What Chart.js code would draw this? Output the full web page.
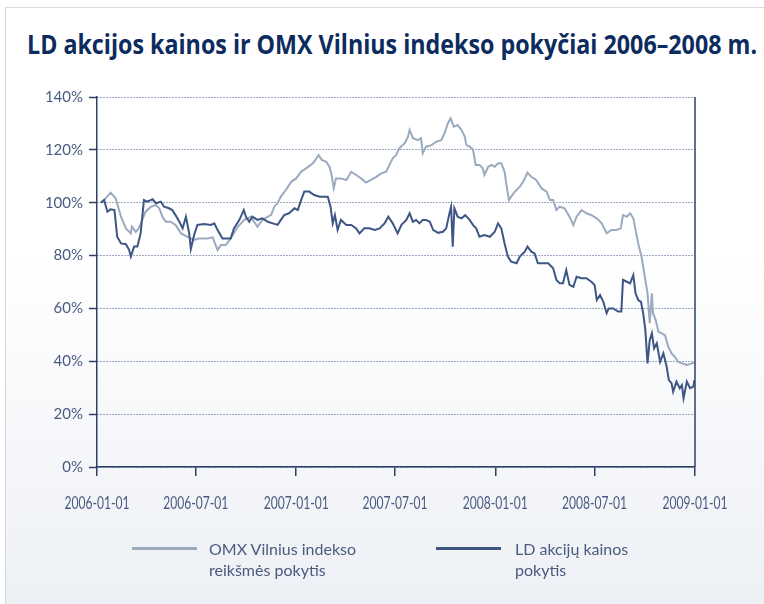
<!DOCTYPE html>
<html><head><meta charset="utf-8">
<script src="https://cdn.jsdelivr.net/npm/chart.js@4.4.0/dist/chart.umd.min.js"></script>
<style>
html,body{margin:0;padding:0;background:#fff;}
#wrap{position:relative;width:764px;height:604px;overflow:hidden;background:#fff;}
#frame{position:absolute;left:5px;top:7px;width:770px;height:620px;border:1px solid #d6dbe3;background:linear-gradient(to bottom,#ffffff 0%,#ffffff 40%,#eceff4 100%);}
#title{position:absolute;left:27px;top:29px;white-space:nowrap;font-weight:bold;font-size:26px;font-family:'Open Sans',sans-serif;color:#0c2b5e;transform-origin:0 0;line-height:30px;}
canvas{position:absolute;left:0;top:0;}
.sw{position:absolute;height:3px;}
.lt{position:absolute;font-family:Lato,'Open Sans',sans-serif;font-size:16px;line-height:21px;color:#4a5b80;white-space:nowrap;}
</style></head>
<body>
<div id="wrap">
  <div id="frame"></div>
  <div id="title">LD akcijos kainos ir OMX Vilnius indekso pokyčiai 2006–2008 m.</div>
  <canvas id="c" width="764" height="604"></canvas>
  <div id="legend"></div>
</div>
<script>
// x values: days since 2006-01-01
const tickDays = [0, 181, 365, 546, 730, 912, 1096];
const tickLabels = ['2006-01-01','2006-07-01','2007-01-01','2007-07-01','2008-01-01','2008-07-01','2009-01-01'];

const omxDays = [7,13,25,34,44,53,62,64,71,77,
83,89,99,108,114,120,126,135,144,154,
166,178,187,202,212,221,227,236,245,258,
270,282,294,303,313,319,325,331,337,346,
356,365,374,383,392,398,406,412,420,426,
430,434,438,447,457,466,475,484,493,502,
512,521,530,536,542,548,554,564,570,573,
579,588,594,597,603,613,622,631,637,643,
648,654,661,668,674,677,683,689,694,701,
707,710,717,723,729,735,741,747,750,755,
759,766,775,781,789,796,805,815,824,830,
836,842,848,857,866,873,879,888,897,906,
916,925,934,943,952,960,964,971,977,983,
987,992,998,1004,1009,1013,1017,1019,1024,1029,
1035,1041,1047,1053,1059,1065,1072,1081,1090,1095];
const omxValues = [100,101,103.8,101.8,94.7,90.3,88.4,91,89,90.4,
93.5,96.6,98.5,99.1,97.9,94.7,92.8,92.8,91.6,88.4,
87.1,85.9,86.5,86.5,86.9,82.1,84,84,86.5,90.9,
93.5,94.7,90.9,93.5,94.7,95.3,98.5,99.8,102.3,104.8,
107.9,109.2,111.7,113,114.3,115.5,118,116.2,115.5,113.6,
110.5,105.4,109.2,109.2,108.6,111.7,110.5,109.2,107.6,108.6,
109.8,111.1,111.7,114.3,116.8,118,120.6,122.5,125,127.5,
124.4,123.7,124.4,118.7,121.2,121.8,123.1,123.7,126.3,130,
131.9,128.8,129.4,127.5,125,121.8,121.2,120.2,114.3,114.3,
113,110.5,113.6,114.3,113.6,114.9,114.9,111.7,107.3,101,
102.3,104.2,106.1,107.9,111.4,109.8,108.6,105.4,104.2,101,
101,97.2,98.5,97.9,94.7,91.6,94.7,97.2,96,95.3,
94.1,92.2,88.4,89.7,89.7,90.3,95.3,94.7,96,94.1,
89.7,84.6,79.6,72,65.7,54.4,65.7,58.2,55.6,51.2,
50.6,49.9,45.5,43,41.7,39.8,39.2,38.6,39.2,39.5];

const ldDays = [7,13,19,25,32,37,44,53,59,62,
68,74,80,86,92,102,108,117,123,132,
138,144,151,157,163,169,172,178,184,196,
209,215,221,230,239,245,251,261,269,273,
279,285,294,303,313,322,331,337,343,352,
362,368,374,380,389,398,408,417,423,428,
432,436,441,447,457,466,475,481,490,499,
509,518,527,534,542,551,558,567,573,579,
585,591,597,603,610,616,625,634,640,646,
649,652,655,661,668,675,683,689,695,701,
710,720,729,735,741,747,753,759,769,775,
784,789,796,802,808,818,827,836,842,848,
854,860,866,873,879,888,897,906,912,916,
922,928,934,938,946,955,961,964,971,977,
983,987,992,997,1001,1005,1009,1013,1017,1021,
1026,1032,1038,1044,1048,1053,1056,1062,1068,1072,
1075,1081,1087,1093,1095];
const ldValues = [100,101,96.6,97.5,97.2,87.1,84.6,84.3,82.1,79.6,
83.4,83.4,88.4,101,100.4,101.3,99.8,100.4,98.5,97.9,
97.2,95.3,92.8,90.3,94.7,88.4,82.5,87.8,91.6,91.9,
91.6,92.2,89.7,86.5,86.5,86.5,90.3,93.5,97.2,94.7,
92.8,94.7,93.5,94.1,92.8,92.2,91.6,93.5,95.3,96,
97.9,97.2,101,104.2,104.2,102.9,102.3,102.3,102.3,98.5,
92.2,95.3,89.7,93.5,91.6,91.6,90.3,88.4,90.3,90.3,
89.7,90.3,92.2,94.7,92.2,88.4,91.6,93.5,96,92.8,
93.5,92.2,93.5,93.5,92.8,89.7,88.6,89,90.3,96,
98.5,83.4,97.9,94.7,94.1,95.3,93.5,91.6,90.3,87.1,
87.8,87.1,89,92.2,90.3,84.6,79.6,77.7,77.1,79.6,
81.5,83.4,81.5,80.8,77.1,77.1,77.1,75.2,70.8,69.5,
69.5,74.5,68.9,68.2,72,71.4,71.4,70.1,68.9,63.2,
65.1,62.5,58.2,60,60,58.8,58.8,70.8,70.1,69.5,
72.6,65.7,63.2,62.5,58.2,51.8,39.2,48,50.6,44.9,
46.8,39.8,43,38,32.9,31.7,28.5,32.3,29.8,31,
26,32.3,29.8,30.4,32.9];

const seriesLabels = [['OMX Vilnius indekso','reikšmės pokytis'], ['LD akcijų kainos','pokytis']];
const seriesColors = ['#9aaabf', '#3e5684'];

const axisColor = '#2e4069';
const tickColor = '#4a5b80';

const toPts = (xs, ys) => xs.map((x, i) => ({x: x, y: ys[i]}));

const rightBorder = {
  id: 'rightBorder',
  afterDraw(chart) {
    const a = chart.chartArea, ctx = chart.ctx;
    ctx.save();
    ctx.strokeStyle = axisColor;
    ctx.lineWidth = 1.5;
    ctx.beginPath();
    ctx.moveTo(a.right, a.top);
    ctx.lineTo(a.right, a.bottom);
    ctx.stroke();
    ctx.restore();
  }
};

// x tick labels drawn narrow (condensed) at the x scale's tick positions
const narrowXLabels = {
  id: 'narrowXLabels',
  afterDraw(chart) {
    const sx = chart.scales.x, ctx = chart.ctx;
    ctx.save();
    ctx.font = '17px Lato, sans-serif';
    ctx.fillStyle = tickColor;
    ctx.textAlign = 'center';
    ctx.textBaseline = 'alphabetic';
    const k = 65 / ctx.measureText(tickLabels[0]).width;
    sx.ticks.forEach((t) => {
      const px = sx.getPixelForValue(t.value);
      ctx.save();
      ctx.translate(px, sx.bottom - 8);
      ctx.scale(k, 1);
      ctx.fillText(tickLabels[tickDays.indexOf(t.value)], 0, 0);
      ctx.restore();
    });
    ctx.restore();
  }
};

const chart = new Chart(document.getElementById('c'), {
  type: 'line',
  data: {
    datasets: [
      {label: seriesLabels[0].join(' '), data: toPts(omxDays, omxValues), borderColor: seriesColors[0], borderWidth: 2, pointRadius: 0, tension: 0, fill: false, order: 2},
      {label: seriesLabels[1].join(' '), data: toPts(ldDays, ldValues), borderColor: seriesColors[1], borderWidth: 2, pointRadius: 0, tension: 0, fill: false, order: 1}
    ]
  },
  options: {
    responsive: false,
    animation: false,
    layout: {padding: {left: 0, right: 69, top: 97, bottom: 87}},
    plugins: {legend: {display: false}, tooltip: {enabled: false}},
    scales: {
      x: {
        type: 'linear', min: 0, max: 1096,
        afterBuildTicks: s => { s.ticks = tickDays.map(v => ({value: v})); },
        afterFit: s => { s.height = 50; },
        ticks: {display: false, autoSkip: false, maxRotation: 0,
          callback: v => tickLabels[tickDays.indexOf(v)]},
        grid: {drawOnChartArea: false, drawTicks: true, tickLength: 9, color: axisColor, lineWidth: 1.5},
        border: {display: true, color: axisColor, width: 1.5}
      },
      y: {
        min: 0, max: 140,
        afterFit: s => { s.width = 97; },
        ticks: {stepSize: 20, padding: 6, color: tickColor,
          font: {family: "Lato, sans-serif", size: 15},
          callback: v => v + '%'},
        grid: {drawOnChartArea: true, drawTicks: true, tickLength: 8, color: '#3a5282', lineWidth: 1,
          tickColor: axisColor, tickBorderDash: [], tickWidth: 1.5},
        border: {display: true, color: axisColor, width: 1.5, dash: [1, 2]}
      }
    }
  },
  plugins: [rightBorder, narrowXLabels]
});

// title fit
const t = document.getElementById('title');
t.style.transform = 'scaleX(' + (730 / t.offsetWidth) + ')';

// legend
const leg = document.getElementById('legend');
const legPos = [{sw: 132, tx: 209}, {sw: 436, tx: 515}];
chart.data.datasets.forEach((ds, i) => {
  const s = document.createElement('div');
  s.className = 'sw';
  s.style.left = legPos[i].sw + 'px';
  s.style.top = '547px';
  s.style.width = '65px';
  s.style.background = ds.borderColor;
  leg.appendChild(s);
  const tx = document.createElement('div');
  tx.className = 'lt';
  tx.style.left = legPos[i].tx + 'px';
  tx.style.top = '538px';
  tx.innerHTML = seriesLabels[i].join('<br>');
  leg.appendChild(tx);
});
</script>
</body></html>
